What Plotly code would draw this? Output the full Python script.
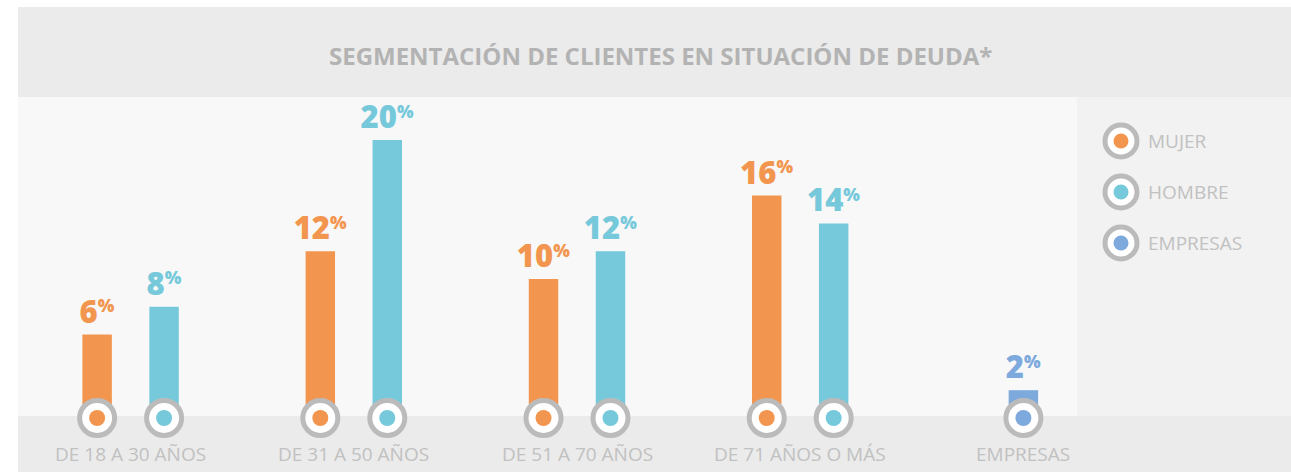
import plotly.graph_objects as go

# datos
categorias = ["DE 18 A 30 AÑOS", "DE 31 A 50 AÑOS", "DE 51 A 70 AÑOS", "DE 71 AÑOS O MÁS", "EMPRESAS"]
series = ["MUJER", "HOMBRE", "EMPRESAS"]
mujer = [6, 12, 10, 16]
hombre = [8, 20, 12, 14]
empresas = [2]

colores = {"MUJER": "#f2964f", "HOMBRE": "#76c9db", "EMPRESAS": "#7da9dd"}
gris_anillo = "#bbbbbb"
gris_texto = "#c1c1c1"

W, H = 1291, 472
base_px = 418          # pixel row of the bar baseline
px_por_unidad = 13.9   # vertical scale
FONT = "Open Sans"


def etiqueta(v):
    return f'{v}<span style="font-size:25px"><sup>%</sup></span>'


fig = go.Figure()

grupos = [
    ("MUJER", [i - 0.15 for i in range(len(mujer))], mujer),
    ("HOMBRE", [i + 0.15 for i in range(len(hombre))], hombre),
    ("EMPRESAS", [4], empresas),
]

for nombre, xs, vals in grupos:
    fig.add_trace(go.Bar(
        x=xs, y=vals, width=0.132, name=nombre,
        marker=dict(color=colores[nombre], line=dict(width=0)),
        text=[etiqueta(v) for v in vals],
        textposition="outside",
        constraintext="none",
        cliponaxis=False,
        textfont=dict(family=FONT, size=31, color=colores[nombre], weight=800),
        hoverinfo="skip",
    ))

# ring markers at the foot of each bar
for nombre, xs, vals in grupos:
    fig.add_trace(go.Scatter(
        x=xs, y=[0] * len(xs), mode="markers", cliponaxis=False,
        marker=dict(size=35, color="white", line=dict(color=gris_anillo, width=5)),
        hoverinfo="skip", showlegend=False,
    ))
    fig.add_trace(go.Scatter(
        x=xs, y=[0] * len(xs), mode="markers", cliponaxis=False,
        marker=dict(size=16, color=colores[nombre], line=dict(width=0)),
        hoverinfo="skip", showlegend=False,
    ))

# background panels
def rect(x0, y0, x1, y1, color):
    fig.add_shape(type="rect", xref="paper", yref="paper",
                  x0=x0 / W, x1=x1 / W, y0=1 - y1 / H, y1=1 - y0 / H,
                  fillcolor=color, line_width=0, layer="below")

rect(18, 7, W, 97, "#ebebeb")
rect(18, 97, 1077, 416, "#f8f8f8")
rect(1077, 97, W, 416, "#f2f2f2")
rect(18, 416, W, H, "#ebebeb")

# title
fig.add_annotation(
    text="<b>SEGMENTACIÓN DE CLIENTES EN SITUACIÓN DE DEUDA*</b>",
    xref="paper", yref="paper", x=660 / W, y=1 - 55 / H,
    showarrow=False, xanchor="center", yanchor="middle",
    font=dict(family=FONT, size=24, color="#b3b3b3"),
)

# category labels
for i, cat in enumerate(categorias):
    fig.add_annotation(
        text=cat, x=i, xref="x", yref="paper", y=1 - 454 / H,
        showarrow=False, xanchor="center", yanchor="middle",
        font=dict(family=FONT, size=19, color=gris_texto, weight=500),
    )

# custom legend
for k, nombre in enumerate(series):
    cy = 1 - (141 + 51 * k) / H
    cx = 1121 / W
    fig.add_shape(type="circle", xref="paper", yref="paper",
                  xsizemode="pixel", ysizemode="pixel", xanchor=cx, yanchor=cy,
                  x0=-16, x1=16, y0=-16, y1=16,
                  fillcolor="white", line=dict(color=gris_anillo, width=5))
    fig.add_shape(type="circle", xref="paper", yref="paper",
                  xsizemode="pixel", ysizemode="pixel", xanchor=cx, yanchor=cy,
                  x0=-7.5, x1=7.5, y0=-7.5, y1=7.5,
                  fillcolor=colores[nombre], line_width=0)
    fig.add_annotation(
        text=nombre, xref="paper", yref="paper", x=1146 / W, y=cy,
        showarrow=False, xanchor="left", yanchor="middle",
        font=dict(family=FONT, size=19, color=gris_texto, weight=500),
    )

# axes: plot area covers the whole figure
x_por_unidad = 223.2
x_centro_px = 577
fig.update_xaxes(range=[2 - x_centro_px / x_por_unidad, 2 + (W - x_centro_px) / x_por_unidad],
                 visible=False, fixedrange=True)
fig.update_yaxes(range=[-(H - base_px) / px_por_unidad, base_px / px_por_unidad],
                 visible=False, fixedrange=True)

fig.update_layout(
    width=W, height=H,
    margin=dict(l=0, r=0, t=0, b=0),
    paper_bgcolor="white", plot_bgcolor="rgba(0,0,0,0)",
    showlegend=False, barmode="overlay",
    font=dict(family=FONT),
)

fig.write_html("out.html", config={"displayModeBar": False},
               post_script="document.body.style.margin='0';")
